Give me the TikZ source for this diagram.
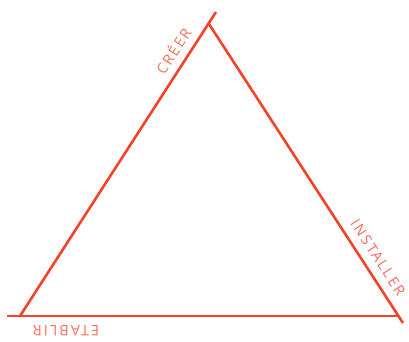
\documentclass[tikz,border=0pt]{standalone}
\usepackage{fontspec}
\newfontfamily\labfont[LetterSpace=14]{Open Sans}
\definecolor{linered}{RGB}{244,67,44}
\definecolor{textred}{RGB}{246,112,92}
\begin{document}
\begin{tikzpicture}[x=1pt,y=1pt,
  side/.style={draw=linered,line width=2.6pt},
  lab/.style={text=textred,font=\labfont\fontsize{14.5}{16}\selectfont,inner sep=0pt}]
\useasboundingbox (0,0) rectangle (409,341);
\coordinate (L0) at (20,25);
\coordinate (L1) at (216,329);
\coordinate (R0) at (209,317);
\coordinate (R1) at (403,18);
\coordinate (B0) at (7,25);
\coordinate (B1) at (398,25);
\draw[side] (L0) -- (L1);
\draw[side] (R0) -- (R1);
\draw[side] (B0) -- (B1);
\node[lab,rotate=57.2] (creer) at (172.7,290.5) {CRÉER};
\node[lab,rotate=-57] (installer) at (378,83.5) {INSTALLER};
\node[lab,rotate=180] (etablir) at (66,10) {ETABLIR};
\end{tikzpicture}
\end{document}
